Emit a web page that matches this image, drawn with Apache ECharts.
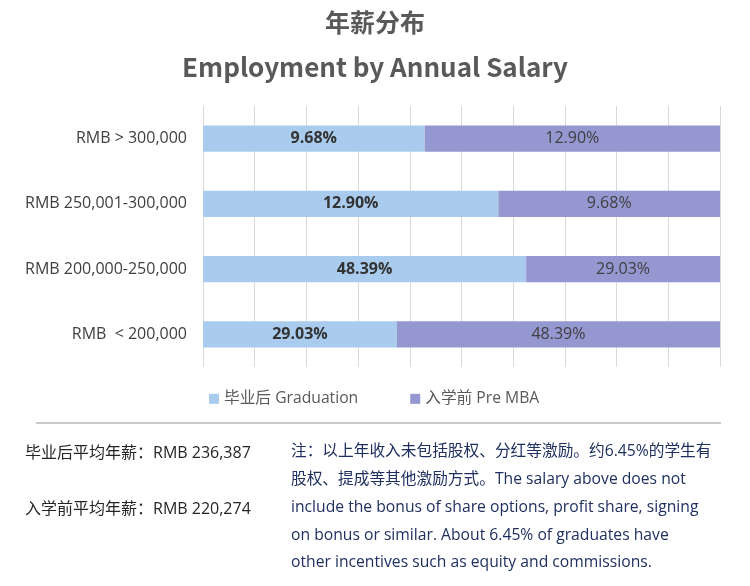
<!DOCTYPE html>
<html>
<head>
<meta charset="utf-8">
<script src="https://cdn.jsdelivr.net/npm/echarts@6/dist/echarts.min.js"></script>
<style>
html,body{margin:0;padding:0;background:#fff;}
#chart{width:750px;height:586px;}
</style>
</head>
<body>
<div id="chart"></div>
<script>
const titleCn = '年薪分布';
const titleEn = 'Employment by Annual Salary';
const categories = ['RMB > 300,000', 'RMB 250,001-300,000', 'RMB 200,000-250,000', 'RMB  < 200,000'];
const seriesNames = ['毕业后 Graduation', '入学前 Pre MBA'];
const graduation = [9.68, 12.90, 48.39, 29.03];
const preMBA = [12.90, 9.68, 29.03, 48.39];
const avgLines = ['毕业后平均年薪：RMB 236,387', '入学前平均年薪：RMB 220,274'];
const noteLines = [
  '注：以上年收入未包括股权、分红等激励。约6.45%的学生有',
  '股权、提成等其他激励方式。The salary above does not',
  'include the bonus of share options, profit share, signing',
  'on bonus or similar. About 6.45% of graduates have',
  'other incentives such as equity and commissions.'
];

const TFONT = '"Noto Sans CJK SC", "Noto Sans", sans-serif';
const FONT = '"Open Sans", "Noto Sans CJK SC", sans-serif';
const totals = graduation.map((g, i) => g + preMBA[i]);
const gradShare = graduation.map((g, i) => g / totals[i] * 100);
const preShare = preMBA.map((p, i) => p / totals[i] * 100);

const chart = echarts.init(document.getElementById('chart'));
const graphics = [];
graphics.push({type:'text', left:'center', top:10, style:{text:titleCn, font:'bold 25px ' + TFONT, fill:'#595959'}});
graphics.push({type:'text', left:'center', top:54, style:{text:titleEn, font:'bold 26px ' + TFONT, fill:'#595959'}});
graphics.push({type:'line', shape:{x1:36, y1:423, x2:721, y2:423}, style:{stroke:'#c9c9c9', lineWidth:2}});
avgLines.forEach((t, i) => {
  graphics.push({type:'text', x:25, y:453 + i*56, style:{text:t, font:'16px ' + FONT, fill:'#262626', textVerticalAlign:'middle'}});
});
noteLines.forEach((t, i) => {
  graphics.push({type:'text', x:291, y:452 + i*27.7, style:{text:t, font:'15.7px ' + FONT, fill:'#1f3060', textVerticalAlign:'middle'}});
});

chart.setOption({
  animation:false,
  backgroundColor:'#fff',
  textStyle:{fontFamily:FONT},
  grid:{left:203, right:30, top:106, height:261, containLabel:false},
  legend:{
    left:204, top:386, itemWidth:10, itemHeight:10, itemGap:52, icon:'rect',
    textStyle:{fontSize:15.7, color:'#595959', fontFamily:FONT},
    data:seriesNames
  },
  xAxis:{
    type:'value', min:0, max:100, interval:10,
    axisLabel:{show:false}, axisLine:{show:false}, axisTick:{show:false},
    splitLine:{show:true, lineStyle:{color:'#d9d9d9', width:1}}
  },
  yAxis:{
    type:'category', data:categories, inverse:true,
    axisLine:{show:false}, axisTick:{show:false},
    axisLabel:{fontSize:16, color:'#404040', margin:16, fontFamily:FONT}
  },
  series:[
    {
      name:seriesNames[0], type:'bar', stack:'s', barWidth:'40%',
      data:gradShare, itemStyle:{color:'#a9cbee'},
      label:{show:true, position:'inside', fontSize:16, fontWeight:'bold', color:'#333', fontFamily:FONT,
        formatter:p => graduation[p.dataIndex].toFixed(2) + '%'}
    },
    {
      name:seriesNames[1], type:'bar', stack:'s', barWidth:'40%',
      data:preShare, itemStyle:{color:'#9497d0'},
      label:{show:true, position:'inside', fontSize:16, color:'#404040', fontFamily:FONT,
        formatter:p => preMBA[p.dataIndex].toFixed(2) + '%'}
    }
  ],
  graphic:graphics
});
</script>
</body>
</html>
